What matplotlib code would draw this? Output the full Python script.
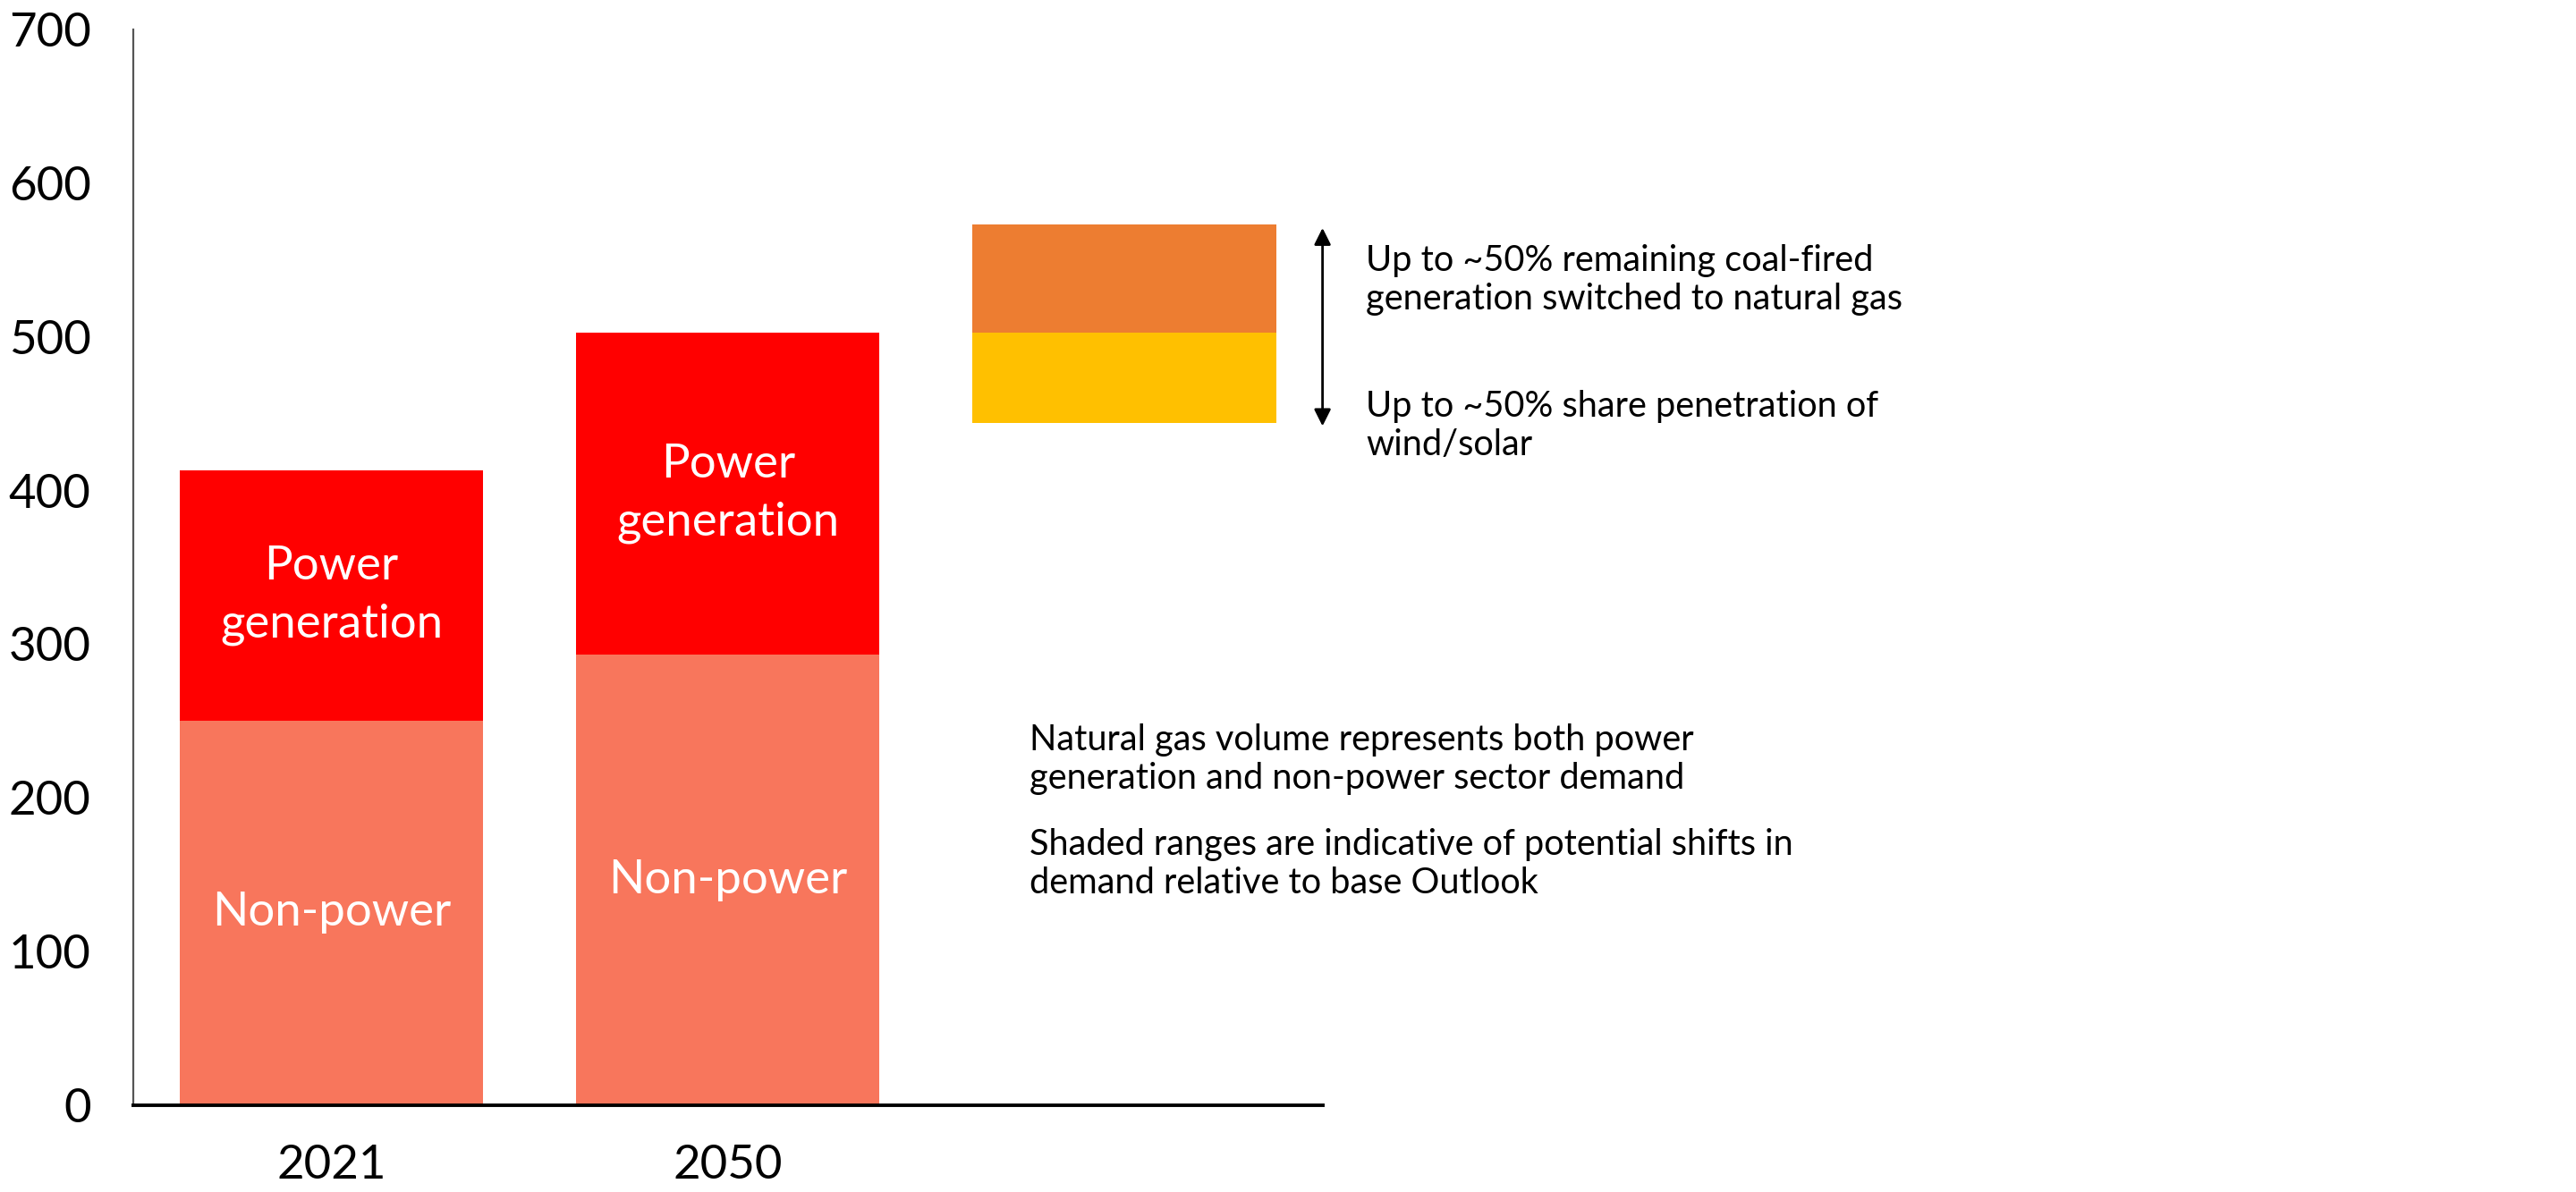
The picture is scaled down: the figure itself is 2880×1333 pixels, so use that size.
import matplotlib
matplotlib.use("Agg")
import matplotlib.pyplot as plt

plt.rcParams['font.family'] = ['Lato', 'DejaVu Sans']

categories = ["2021", "2050"]
non_power = [250, 293]
power_gen = [163, 210]
range_x = 2
range_low = 444
range_mid = 503
range_high = 573
y_ticks = [0, 100, 200, 300, 400, 500, 600, 700]

c_nonpower = "#F8765C"
c_power = "#FF0000"
c_orange = "#ED7D31"
c_yellow = "#FFC000"

fig = plt.figure(figsize=(14.4, 6.665), dpi=200)
ax = fig.add_axes([0.0517, 0.073, 0.4617, 0.902])

xs = list(range(len(categories)))
w = 0.765
ax.bar(xs, non_power, width=w, color=c_nonpower, linewidth=0)
ax.bar(xs, power_gen, width=w, bottom=non_power, color=c_power, linewidth=0)
ax.bar([range_x], [range_mid - range_low], width=w, bottom=[range_low], color=c_yellow, linewidth=0)
ax.bar([range_x], [range_high - range_mid], width=w, bottom=[range_mid], color=c_orange, linewidth=0)

for x, npw, pg in zip(xs, non_power, power_gen):
    ax.text(x, npw / 2, "Non-power", ha="center", va="center", color="white", fontsize=19)
    ax.text(x, npw + pg / 2, "Power\ngeneration", ha="center", va="center", color="white",
            fontsize=19, linespacing=1.45)

ax.set_xlim(-0.5, 2.5)
ax.set_ylim(0, 700)
ax.set_yticks(y_ticks)
ax.set_xticks(xs)
ax.set_xticklabels(categories)
ax.tick_params(axis="both", length=0, labelsize=19)
ax.tick_params(axis="y", pad=17)
ax.tick_params(axis="x", pad=16)

for s in ["top", "right"]:
    ax.spines[s].set_visible(False)
ax.spines["left"].set_color("#555555")
ax.spines["left"].set_linewidth(0.8)
ax.spines["bottom"].set_color("black")
ax.spines["bottom"].set_linewidth(1.4)

ax.annotate("", xy=(2.5, range_high - 2), xytext=(2.5, range_low - 2),
            arrowprops=dict(arrowstyle="<|-|>", color="black", lw=1.0,
                            mutation_scale=14, shrinkA=0, shrinkB=0),
            annotation_clip=False)

ax.text(2.61, 537, "Up to ~50% remaining coal-fired\ngeneration switched to natural gas",
        ha="left", va="center", fontsize=14.3, linespacing=1.2, clip_on=False)
ax.text(2.61, 442, "Up to ~50% share penetration of\nwind/solar",
        ha="left", va="center", fontsize=14.3, linespacing=1.2, clip_on=False)
ax.text(1.762, 225, "Natural gas volume represents both power\ngeneration and non-power sector demand",
        ha="left", va="center", fontsize=14.3, linespacing=1.2, clip_on=False)
ax.text(1.762, 157, "Shaded ranges are indicative of potential shifts in\ndemand relative to base Outlook",
        ha="left", va="center", fontsize=14.3, linespacing=1.2, clip_on=False)

fig.savefig("out.png", dpi=200)
